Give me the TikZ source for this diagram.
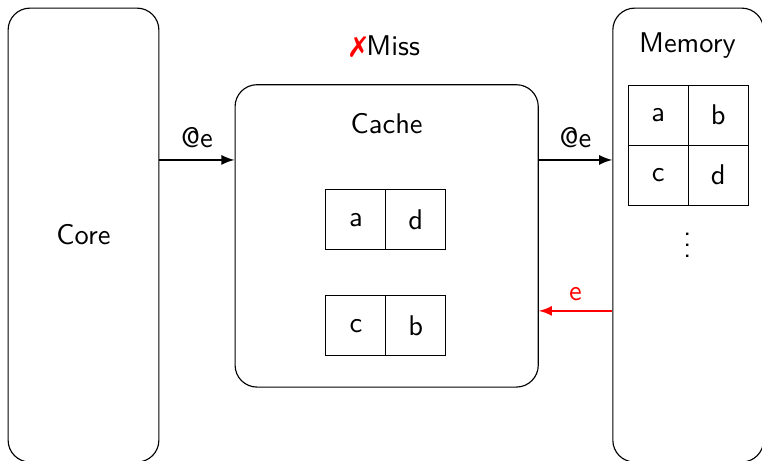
\documentclass[tikz,border=0pt]{standalone}
\usepackage{xcolor}
\usepackage{pifont}
\usepackage{tikz}
\usetikzlibrary{positioning}

\begin{document}
\begin{tikzpicture}[every node/.style={font=\sffamily},
    bigbox/.style={draw, rounded corners=0.27cm, minimum width=1.86cm, minimum height=5.6cm},
    cell/.style={draw, minimum size=0.74cm, inner sep=0pt},
    arr/.style={semithick, -latex}]
    \useasboundingbox (0,0) rectangle (9.40,-5.685);

    % core and memory
    \node[bigbox] (core) at (1.03,-2.90) {Core};
    \node[bigbox] (memory) at (8.49,-2.90) {};
    \node (memtitle) at (8.48,-0.56) {Memory};

    % cache
    \node[draw, rounded corners=0.27cm, minimum width=3.74cm, minimum height=3.73cm] (cache) at (4.77,-2.91) {};
    \node (cachetitle) at (4.77,-1.53) {Cache};
    \node (miss) at (4.75,-0.58) {\textcolor{red}{\ding{55}}Miss};

    % cache lines
    \node[cell] (la) at (4.39,-2.71) {a};
    \node[cell] (ld) at (5.13,-2.71) {d};
    \node[cell] (lc) at (4.39,-4.02) {c};
    \node[cell] (lb) at (5.13,-4.02) {b};

    % memory blocks
    \node[cell] (ma) at (8.12,-1.42) {a};
    \node[cell] (mb) at (8.86,-1.42) {b};
    \node[cell] (mc) at (8.12,-2.16) {c};
    \node[cell] (md) at (8.86,-2.16) {d};
    \node (more) at (8.48,-2.92) {$\vdots$};

    % requests
    \coordinate (req) at (0,-1.973);
    \coordinate (resp) at (0,-3.835);
    \draw[arr] (core.east |- req) -- node[above=0.5pt] (req1) {@e} (cache.west |- req);
    \draw[arr] (cache.east |- req) -- node[above=0.5pt] (req2) {@e} (memory.west |- req);
    \draw[arr, red] (memory.west |- resp) -- node[above=0pt] (fill) {e} (cache.east |- resp);
\end{tikzpicture}
\end{document}
